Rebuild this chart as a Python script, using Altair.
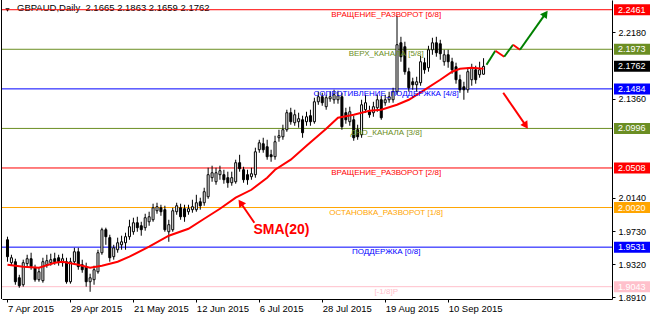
import altair as alt
import pandas as pd

# ---------------- data ----------------
opens = [1.9622,1.9339,1.9351,1.9153,1.9067,1.9327,1.9388,1.9277,1.9129,1.9117,
         1.9314,1.9339,1.9388,1.9400,1.9339,1.9351,1.9104,1.9351,1.9474,1.9314,
         1.9290,1.9104,1.9129,1.9227,1.9462,1.9746,1.9648,1.9413,1.9499,1.9560,
         1.9585,1.9660,1.9721,1.9832,1.9795,1.9771,1.9844,1.9869,1.9980,2.0017,
         1.9993,1.9721,1.9746,1.9968,2.0017,2.0005,1.9968,1.9993,1.9993,2.0091,
         2.0079,2.0153,2.0388,2.0338,2.0425,2.0425,2.0388,2.0326,2.0338,2.0573,
         2.0486,2.0425,2.0400,2.0425,2.0733,2.0807,2.0770,2.0671,2.0647,2.0881,
         2.0893,2.0980,2.1190,2.1066,2.1079,2.1103,2.1079,2.1153,2.1079,2.1325,
         2.1387,2.1264,2.1362,2.1350,2.1350,2.1387,2.1190,2.1079,2.1103,2.0980,
         2.0918,2.1227,2.1202,2.1190,2.1251,2.1350,2.1313,2.1350,2.1350,2.1449,
         2.2053,2.2004,2.1696,2.1572,2.1535,2.1560,2.1807,2.1745,2.1967,2.2053,
         2.2041,2.1819,2.1905,2.1819,2.1757,2.1597,2.1510,2.1473,2.1597,2.1720,
         2.1659,2.1665]
closes = [1.9413,1.9400,1.9104,1.9055,1.9339,1.9388,1.9290,1.9129,1.9227,1.9351,
          1.9364,1.9376,1.9351,1.9351,1.9388,1.9104,1.9351,1.9474,1.9290,1.9252,
          1.9104,1.9153,1.9252,1.9462,1.9746,1.9660,1.9400,1.9523,1.9585,1.9597,
          1.9660,1.9783,1.9832,1.9771,1.9746,1.9894,1.9906,2.0017,2.0030,1.9968,
          1.9746,1.9808,1.9980,2.0042,1.9906,1.9906,2.0005,2.0030,2.0079,2.0042,
          2.0215,2.0425,2.0449,2.0449,2.0474,2.0363,2.0326,2.0388,2.0573,2.0499,
          2.0363,2.0363,2.0437,2.0708,2.0819,2.0733,2.0647,2.0647,2.0832,2.0906,
          2.0980,2.1190,2.1079,2.1165,2.1116,2.0943,2.1140,2.1079,2.1325,2.1387,
          2.1313,2.1375,2.1387,2.1412,2.1399,2.1017,2.1103,2.1202,2.0881,2.0893,
          2.1288,2.1313,2.1165,2.1264,2.1350,2.1128,2.1350,2.1387,2.1449,2.2029,
          2.1881,2.1696,2.1498,2.1535,2.1572,2.1819,2.1720,2.1967,2.2053,2.1930,
          2.1918,2.1905,2.1819,2.1720,2.1597,2.1473,2.1473,2.1696,2.1745,2.1597,
          2.1720,2.1762]
highs = [1.9660,1.9437,1.9388,1.9190,1.9376,1.9437,1.9462,1.9314,1.9277,1.9400,
         1.9437,1.9450,1.9462,1.9437,1.9450,1.9400,1.9400,1.9523,1.9523,1.9376,
         1.9339,1.9203,1.9302,1.9499,1.9771,1.9771,1.9684,1.9560,1.9648,1.9672,
         1.9709,1.9869,1.9894,1.9906,1.9844,1.9943,1.9968,2.0067,2.0079,2.0054,
         2.0042,1.9869,2.0017,2.0079,2.0067,2.0054,2.0054,2.0116,2.0177,2.0141,
         2.0264,2.0511,2.0536,2.0511,2.0536,2.0486,2.0462,2.0462,2.0610,2.0671,
         2.0523,2.0486,2.0511,2.0758,2.0856,2.0881,2.0856,2.0733,2.0906,2.0980,
         2.1042,2.1227,2.1251,2.1227,2.1190,2.1153,2.1202,2.1227,2.1375,2.1449,
         2.1436,2.1412,2.1449,2.1473,2.1461,2.1436,2.1251,2.1264,2.1153,2.1042,
         2.1350,2.1412,2.1276,2.1325,2.1412,2.1399,2.1412,2.1449,2.1498,2.2387,
         2.2127,2.2066,2.1745,2.1622,2.1634,2.1893,2.1868,2.2016,2.2115,2.2127,
         2.2090,2.1967,2.1967,2.1868,2.1807,2.1659,2.1572,2.1745,2.1794,2.1770,
         2.1819,2.1863]
lows = [1.9351,1.9302,1.9067,1.9030,1.9043,1.9277,1.9252,1.9104,1.9104,1.9092,
        1.9277,1.9302,1.9314,1.9302,1.9290,1.9080,1.9080,1.9314,1.9252,1.9215,
        1.9043,1.8980,1.9067,1.9203,1.9437,1.9560,1.9351,1.9376,1.9462,1.9499,
        1.9499,1.9622,1.9684,1.9721,1.9672,1.9734,1.9795,1.9844,1.9943,1.9918,
        1.9721,1.9597,1.9721,1.9931,1.9869,1.9844,1.9931,1.9956,1.9968,1.9993,
        2.0042,2.0128,2.0338,2.0301,2.0363,2.0314,2.0264,2.0289,2.0314,2.0462,
        2.0326,2.0301,2.0363,2.0388,2.0696,2.0696,2.0610,2.0585,2.0610,2.0832,
        2.0856,2.0955,2.1042,2.1029,2.1005,2.0881,2.1029,2.1029,2.1054,2.1288,
        2.1276,2.1227,2.1325,2.1301,2.1301,2.0980,2.1054,2.1029,2.0844,2.0856,
        2.0881,2.1190,2.1128,2.1140,2.1202,2.1103,2.1276,2.1313,2.1313,2.1412,
        2.1819,2.1659,2.1449,2.1473,2.1449,2.1523,2.1671,2.1696,2.1905,2.1881,
        2.1844,2.1770,2.1745,2.1671,2.1548,2.1436,2.1350,2.1436,2.1523,2.1548,
        2.1622,2.1659]

sma_bar = [0, 4, 8, 12, 14, 18, 21, 24, 28, 31, 36, 41, 46, 50, 54, 58, 62, 66, 68,
           72, 76, 81, 84, 88, 92, 95, 99, 102, 106, 110, 113, 115, 118, 121]
sma_val = [1.9314, 1.9290, 1.9277, 1.9339, 1.9351, 1.9314, 1.9277, 1.9302, 1.9351,
           1.9413, 1.9536, 1.9672, 1.9758, 1.9881, 2.0005, 2.0141, 2.0239, 2.0388,
           2.0486, 2.0610, 2.0782, 2.0993, 2.1128, 2.1165, 2.1214, 2.1227, 2.1288,
           2.1350, 2.1473, 2.1597, 2.1696, 2.1733, 2.1745, 2.1733]

level_val = [2.2461, 2.1973, 2.1484, 2.0996, 2.0508, 2.0020, 1.9531, 1.9043]
level_name = ["ВРАЩЕНИЕ_РАЗВОРОТ [6/8]", "ВЕРХ_КАНАЛА [5/8]",
              "СОПРОТИВЛЕНИЕ_ПОДДЕРЖКА [4/8]", "ДНО_КАНАЛА [3/8]",
              "ВРАЩЕНИЕ_РАЗВОРОТ [2/8]", "ОСТАНОВКА_РАЗВОРОТ [1/8]",
              "ПОДДЕРЖКА [0/8]", "[-1/8]P"]
level_color = ["#FF0000", "#6B8E23", "#0000FF", "#6B8E23", "#FF0000",
               "#FFA500", "#0000FF", "#FFC0CB"]

current_price = 2.1762
y_ticks = [2.2180, 2.1360, 2.0140, 1.9730, 1.9320, 1.8910]
date_ticks = [0, 16, 32, 48, 64, 80, 96, 112]
date_labels = ["7 Apr 2015", "29 Apr 2015", "21 May 2015", "12 Jun 2015",
               "6 Jul 2015", "28 Jul 2015", "19 Aug 2015", "10 Sep 2015"]

# forecast zigzag (bar, price) and colours
zig_bar = [121.75, 124.0, 126.25, 128.5, 130.25, 136.75]
zig_val = [2.1782, 2.1955, 2.1881, 2.2029, 2.1967, 2.2412]
zig_col = ["#008000", "#FF0000", "#008000", "#FF0000", "#008000"]
down_bar = [126.0, 131.75]
down_val = [2.1436, 2.1030]
sma_arrow_bar = [62.75, 59.25]
sma_arrow_val = [1.9832, 2.0079]
sma_text_bar, sma_text_val = 62.5, 1.9746
label_bar = 96.25
header = "GBPAUD,Daily\u00a0 2.1665 2.1863 2.1659 2.1762"

# ---------------- chart ----------------
W, H = 610, 299
XDOM = [-0.125, 152.375]
YDOM = [1.8891, 2.2581]
FONT = "Liberation Sans"

lab_expr = " : ".join(
    f"datum.value == {t} ? '{l}'" for t, l in zip(date_ticks, date_labels)) + " : ''"

xaxis = alt.Axis(orient="bottom", values=date_ticks, labelExpr=lab_expr, title=None,
                 grid=False, tickSize=3, tickColor="black", domainColor="black",
                 labelAlign="left", labelPadding=1, labelFont=FONT, labelFontSize=9.5,
                 labelColor="black", labelFlush=False, labelOverlap=False,
                 labelBaseline="top")
yaxis = alt.Axis(orient="right", values=y_ticks, format=".4f", title=None, grid=False,
                 tickSize=3, tickColor="black", domainColor="black", labelPadding=3,
                 labelFont=FONT, labelFontSize=9, labelColor="black",
                 labelOverlap=False, labelFlush=False)

def X(field):
    return alt.X(field, type="quantitative", scale=alt.Scale(domain=XDOM, nice=False, zero=False), axis=xaxis)

def Y(field):
    return alt.Y(field, type="quantitative", scale=alt.Scale(domain=YDOM, nice=False, zero=False), axis=yaxis)

candles = pd.DataFrame({"bar": list(range(len(opens))), "open": opens, "close": closes,
                        "high": highs, "low": lows})
candles["fill"] = ["white" if c >= o else "black" for o, c in zip(opens, closes)]

levels = pd.DataFrame({"val": level_val, "name": level_name, "col": level_color,
                       "bar": [label_bar] * len(level_val)})

px = (YDOM[1] - YDOM[0]) / H
tags = pd.DataFrame({"val": level_val + [current_price],
                     "col": level_color + ["#000000"]})
tags["top"] = tags["val"] + 5.5 * px
tags["bot"] = tags["val"] - 5.5 * px
tags["txt"] = [f"{v:.4f}" for v in tags["val"]]

header_layer = alt.Chart(pd.DataFrame({"t": [header]})).mark_text(
    align="left", baseline="middle", font=FONT, fontSize=9.5, color="black"
).encode(x=alt.value(15), y=alt.value(8), text="t:N")

tri_layer = alt.Chart(pd.DataFrame({"t": [0]})).mark_point(
    shape="triangle-down", filled=True, color="black", size=18, opacity=1
).encode(x=alt.value(5.5), y=alt.value(10))

level_rules = alt.Chart(levels).mark_rule(strokeWidth=1).encode(
    y=Y("val"), color=alt.Color("col:N", scale=None))

wicks = alt.Chart(candles).mark_rule(color="black", strokeWidth=1).encode(
    x=X("bar"), y=Y("high"), y2="low")

bodies = alt.Chart(candles).mark_bar(size=2, stroke="black", strokeWidth=1).encode(
    x=X("bar"), y=Y("open"), y2="close", fill=alt.Fill("fill:N", scale=None))

sma = alt.Chart(pd.DataFrame({"bar": sma_bar, "v": sma_val})).mark_line(
    color="#FF0000", strokeWidth=2).encode(x=X("bar"), y=Y("v"))

level_text = alt.Chart(levels).mark_text(
    baseline="top", align="center", dy=1, font=FONT, fontSize=8).encode(
    x=X("bar"), y=Y("val"), text="name:N", color=alt.Color("col:N", scale=None))

zig = pd.DataFrame({"b0": zig_bar[:-1], "b1": zig_bar[1:], "v0": zig_val[:-1],
                    "v1": zig_val[1:], "col": zig_col})
zig_layer = alt.Chart(zig).mark_rule(strokeWidth=2).encode(
    x=X("b0"), x2="b1", y=Y("v0"), y2="v1", color=alt.Color("col:N", scale=None))

down = pd.DataFrame({"b0": [down_bar[0]], "b1": [down_bar[1]],
                     "v0": [down_val[0]], "v1": [down_val[1]]})
down_layer = alt.Chart(down).mark_rule(strokeWidth=2, color="#FF0000").encode(
    x=X("b0"), x2="b1", y=Y("v0"), y2="v1")

smaarr = pd.DataFrame({"b0": [sma_arrow_bar[0]], "b1": [sma_arrow_bar[1]],
                       "v0": [sma_arrow_val[0]], "v1": [sma_arrow_val[1]]})
smaarr_layer = alt.Chart(smaarr).mark_rule(strokeWidth=2, color="#FF0000").encode(
    x=X("b0"), x2="b1", y=Y("v0"), y2="v1")

def head(b, v, ang, col):
    return alt.Chart(pd.DataFrame({"b": [b], "v": [v]})).mark_point(
        shape="triangle-up", filled=True, size=70, angle=ang, color=col, opacity=1
    ).encode(x=X("b"), y=Y("v"))

heads = (head(zig_bar[-1], zig_val[-1], 36, "#008000")
         + head(down_bar[1], down_val[1], 146, "#FF0000")
         + head(sma_arrow_bar[1], sma_arrow_val[1], 325, "#FF0000"))

sma_text = alt.Chart(pd.DataFrame({"b": [sma_text_bar], "v": [sma_text_val],
                                   "t": ["SMA(20)"]})).mark_text(
    align="left", baseline="middle", font=FONT, fontSize=14, fontWeight="bold",
    color="#FF0000").encode(x=X("b"), y=Y("v"), text="t:N")

tag_boxes = alt.Chart(tags).mark_rect().encode(
    x=alt.value(612), x2=alt.value(650), y=Y("top"), y2="bot",
    color=alt.Color("col:N", scale=None))
tag_text = alt.Chart(tags).mark_text(
    align="left", baseline="middle", font=FONT, fontSize=9, color="white").encode(
    x=alt.value(616), y=Y("val"), text="txt:N")

left_border = alt.Chart(pd.DataFrame({"t": [0]})).mark_rule(
    color="black", strokeWidth=1).encode(x=alt.value(-0.5), y=alt.value(0), y2=alt.value(H))

chart = alt.layer(
    header_layer, tri_layer, level_rules, wicks, bodies, sma, level_text,
    zig_layer, down_layer, smaarr_layer, heads, sma_text, tag_boxes, tag_text,
    left_border
).properties(
    width=W, height=H,
    autosize=alt.AutoSizeParams(type="none"),
    padding={"left": 2, "top": 0, "right": 38, "bottom": 17},
    background="white"
).configure_view(stroke=None)

chart.save("out.html", embed_options={"renderer": "svg", "actions": False})
